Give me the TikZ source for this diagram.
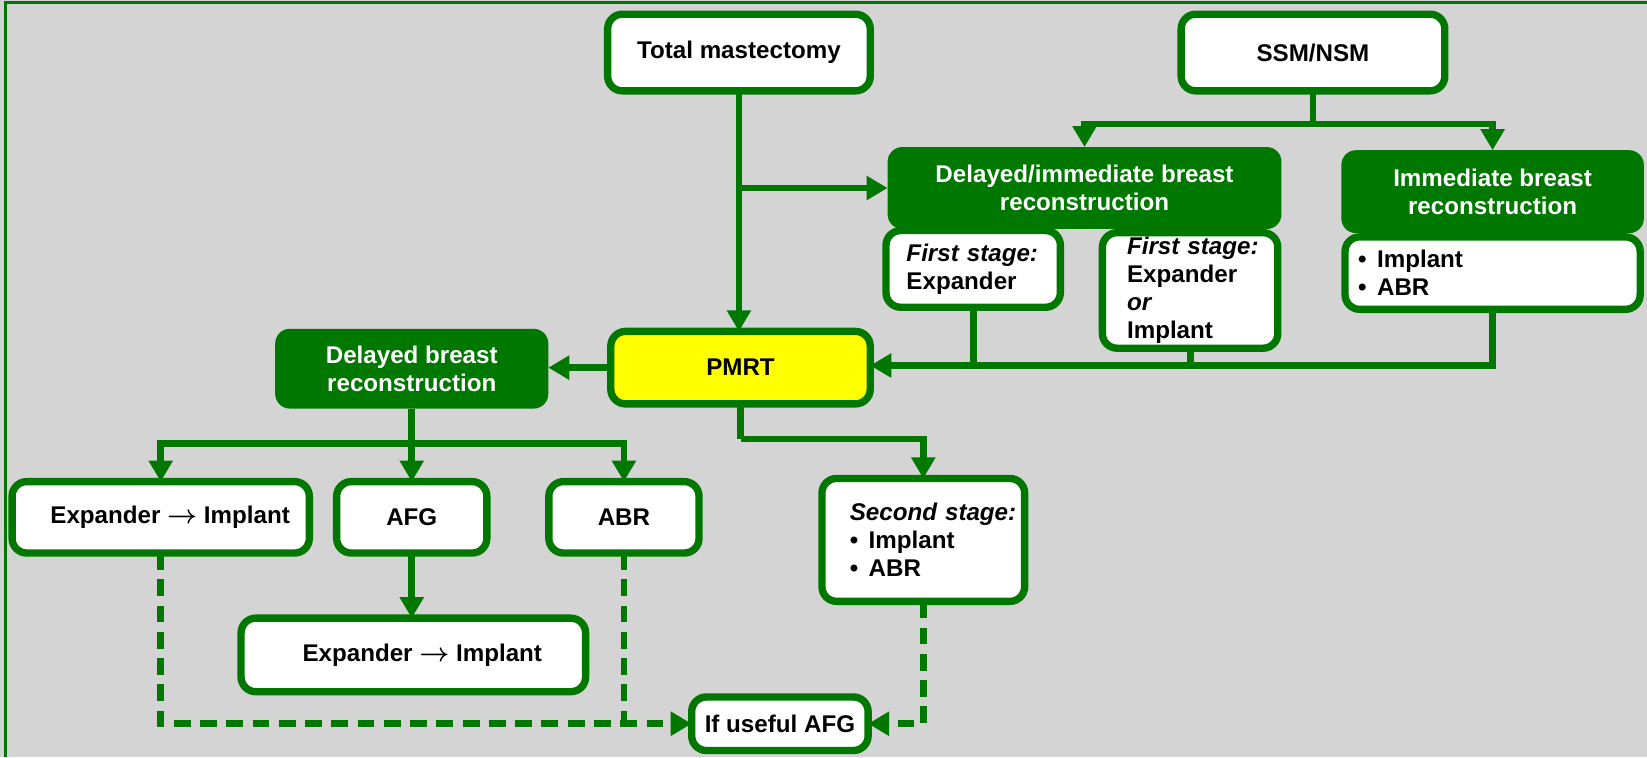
\documentclass[tikz,border=0pt]{standalone}
\usepackage{fontspec}
\setmainfont{Liberation Sans}
\usetikzlibrary{arrows.meta}
\definecolor{G}{RGB}{0,120,0}
\definecolor{bg}{RGB}{212,212,212}
\definecolor{yel}{RGB}{255,255,0}
\newcommand{\myarrow}{{\boldmath$\rightarrow$}}
\begin{document}
\begin{tikzpicture}[x=1pt,y=-1pt,
  every node/.style={font=\fontsize{23}{26.5}\selectfont\bfseries, inner sep=0pt, outer sep=0pt},
  wbox/.style 2 args={draw=G, line width=7pt, fill=white, rounded corners=14pt,
     minimum width=#1, minimum height=#2, align=center},
  lbox/.style n args={4}{draw=G, line width=7pt, fill=white, rounded corners=14pt,
     minimum width=#1, minimum height=#2, text width=#3, inner xsep=#4, align=left},
  gbox/.style 2 args={fill=G, text=white, rounded corners=14pt,
     minimum width=#1, minimum height=#2, align=center},
  conn/.style={draw=G, line width=6.5pt},
  arr/.style={conn, -{Triangle[length=20pt,width=22pt]}},
  dsh/.style={conn, dash pattern=on 16pt off 9pt},
]
\useasboundingbox (0,0) rectangle (1568,721);
\fill[bg] (0,0) rectangle (1568,721);
\draw[G, line width=3pt] (5,721) -- (5,2) -- (1568,2);

% top row
\node[wbox={250pt}{73pt}] (TM) at (703.5,50) {Total mastectomy};
\node[wbox={251pt}{73pt}] (SSM) at (1250,50) {SSM/NSM};

% green headers
\node[gbox={375pt}{78pt}] (DI) at (1032.5,179) {Delayed/immediate breast\\reconstruction};
\node[gbox={288pt}{79pt}] (IMM) at (1421,182.5) {Immediate breast\\reconstruction};

% first stage boxes
\node[lbox={166pt}{73pt}{127pt}{19.5pt}] (B5) at (926.5,256) {\textit{First~stage:}\\Expander};
\node[lbox={167pt}{110pt}{120pt}{23.5pt}] (B6) at (1133,276.5) {\textit{First~stage:}\\Expander\\\textit{or}\\Implant};
\node[lbox={281pt}{69pt}{256pt}{12.5pt}] (B7) at (1421,260) {•\hspace{10pt}Implant\\•\hspace{10pt}ABR};

% middle row
\node[wbox={247pt}{69pt}, fill=yel] (PMRT) at (705,350) {PMRT};
\node[gbox={260pt}{76pt}] (DB) at (392,351) {Delayed breast\\reconstruction};

% lower row
\node[wbox={283pt}{68pt}] (EI) at (153,492.5) {\hspace{18pt}Expander \myarrow{} Implant};
\node[wbox={143pt}{68pt}] (AFG) at (392,492.5) {AFG};
\node[wbox={143pt}{68pt}] (ABR) at (594,492.5) {ABR};
\node[lbox={193pt}{117pt}{140pt}{26.5pt}] (SS) at (879,514) {\textit{Second~stage:}\\•\hspace{10pt}Implant\\•\hspace{10pt}ABR};
\node[wbox={328pt}{70pt}] (EI2) at (393.5,623.5) {\hspace{17pt}Expander \myarrow{} Implant};
\node[wbox={168pt}{51pt}] (IU) at (742.5,689) {If useful AFG};

% connectors
\draw[arr] (TM.south) -- (TM.south |- PMRT.north);
\draw[arr] (TM.south |- DI.west) -- (DI.west);

\coordinate (s1) at (1250,118);
\draw[conn] (SSM.south) -- (s1);
\draw[arr] (s1) -| (DI.north);
\draw[arr] (s1) -| (IMM.north);

\coordinate (cR) at (1421,348);
\draw[conn] (B5.south) -- (B5.south |- cR);
\draw[conn] (B6.south) -- (B6.south |- cR);
\draw[arr] (B7.south) -- (cR) -- (cR -| PMRT.east);

\draw[arr] (PMRT.west) -- (PMRT.west -| DB.east);

\coordinate (dj) at (392,422);
\draw[conn] (DB.south) -- (dj);
\draw[arr] (dj) -| (EI.north);
\draw[arr] (dj) -- (AFG.north);
\draw[arr] (dj) -| (ABR.north);

\coordinate (pj) at (705,418);
\draw[conn] (PMRT.south) -- (pj);
\draw[arr] (pj) -| (SS.north);

\draw[arr] (AFG.south) -- (AFG.south |- EI2.north);

\draw[dsh, -{Triangle[length=20pt,width=22pt]}] (EI.south) |- (IU.west);
\draw[dsh] (ABR.south) -- (ABR.south |- IU.west);
\draw[dsh, -{Triangle[length=20pt,width=22pt]}] (SS.south) |- (IU.east);
\end{tikzpicture}
\end{document}
